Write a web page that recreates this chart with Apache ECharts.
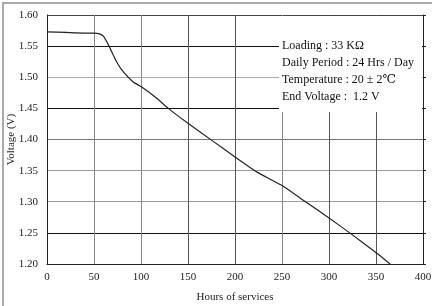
<!DOCTYPE html>
<html>
<head>
<meta charset="utf-8">
<script src="https://cdn.jsdelivr.net/npm/echarts@6/dist/echarts.min.js"></script>
<style>
  html, body { margin: 0; padding: 0; background: #fff; }
  #chart { width: 432px; height: 306px; }
</style>
</head>
<body>
<div id="chart"></div>
<script>
// 放电曲线数据（小时, 电压）
var hours = [0, 20, 40, 50, 55, 60, 66, 74, 81, 92, 100, 117, 129, 150, 175, 200, 223, 250, 275, 300, 322, 353, 365];
var voltage = [1.573, 1.572, 1.571, 1.571, 1.570, 1.566, 1.550, 1.525, 1.509, 1.492, 1.485, 1.466, 1.450, 1.426, 1.399, 1.372, 1.348, 1.326, 1.300, 1.274, 1.250, 1.215, 1.200];
var notes = ['Loading : 33 KΩ', 'Daily Period : 24 Hrs / Day', 'Temperature : 20 ± 2℃', 'End Voltage :  1.2 V'];

var serif = '"Liberation Serif", "DejaVu Serif", serif';

var chart = echarts.init(document.getElementById('chart'), null, { renderer: 'canvas' });

var points = hours.map(function (h, i) { return [h, voltage[i]]; });

var option = {
  animation: false,
  backgroundColor: '#fff',
  grid: { left: 47, top: 15, right: 9, bottom: 42, containLabel: false, outerBoundsMode: 'none' },
  xAxis: {
    type: 'value',
    min: 0, max: 400, interval: 50,
    name: 'Hours of services',
    nameLocation: 'middle',
    nameGap: 28,
    nameMoveOverlap: false,
    nameTextStyle: { fontFamily: serif, fontSize: 11, color: '#222' },
    axisLine: { show: true, onZero: false, lineStyle: { color: '#222', width: 1 } },
    axisTick: { show: false },
    axisLabel: { fontFamily: serif, fontSize: 11, color: '#222', margin: 8 },
    splitLine: {
      show: true,
      lineStyle: { color: ['#222', '#888', '#888', '#555', '#555', '#888', '#555', '#555', '#222'], width: 1 }
    }
  },
  yAxis: [{
    type: 'value',
    min: 1.20, max: 1.60, interval: 0.05,
    name: 'Voltage (V)',
    nameLocation: 'middle',
    nameGap: 30,
    nameRotate: 90,
    nameMoveOverlap: false,
    nameTextStyle: { fontFamily: serif, fontSize: 11, color: '#222' },
    axisLine: { show: true, lineStyle: { color: '#222', width: 1 } },
    axisTick: { show: false },
    axisLabel: {
      fontFamily: serif, fontSize: 11, color: '#222', margin: 9,
      formatter: function (v) { return v.toFixed(2); }
    },
    splitLine: {
      show: true,
      lineStyle: { color: ['#222', '#111', '#999', '#999', '#777', '#111', '#aaa', '#111', '#444'], width: 1 }
    }
  }, {
    type: 'value',
    position: 'right',
    min: 1.20, max: 1.60, interval: 0.05,
    axisLine: { show: true, lineStyle: { color: '#222', width: 1 } },
    axisTick: { show: true, inside: false, length: 3, lineStyle: { color: '#222' } },
    axisLabel: { show: false },
    splitLine: { show: false }
  }],
  series: [{
    type: 'line',
    data: points,
    smooth: 0.15,
    showSymbol: false,
    lineStyle: { color: '#222', width: 1.2 },
    z: 3
  }],
  graphic: [
    // 外框
    {
      type: 'rect',
      shape: { x: 3, y: 3, width: 600, height: 500 },
      style: { fill: 'none', stroke: '#aaa', lineWidth: 2 },
      z: 1
    },
    // 说明文字白底
    {
      type: 'rect',
      shape: { x: 279, y: 16, width: 143, height: 96 },
      style: { fill: '#fff' },
      z: 10
    }
  ].concat(notes.map(function (t, i) {
    return {
      type: 'text',
      x: 282,
      y: 46 + i * 17,
      z: 11,
      style: { text: t, font: '12px ' + serif, fill: '#111', verticalAlign: 'middle' }
    };
  }))
};

chart.setOption(option);
</script>
</body>
</html>
